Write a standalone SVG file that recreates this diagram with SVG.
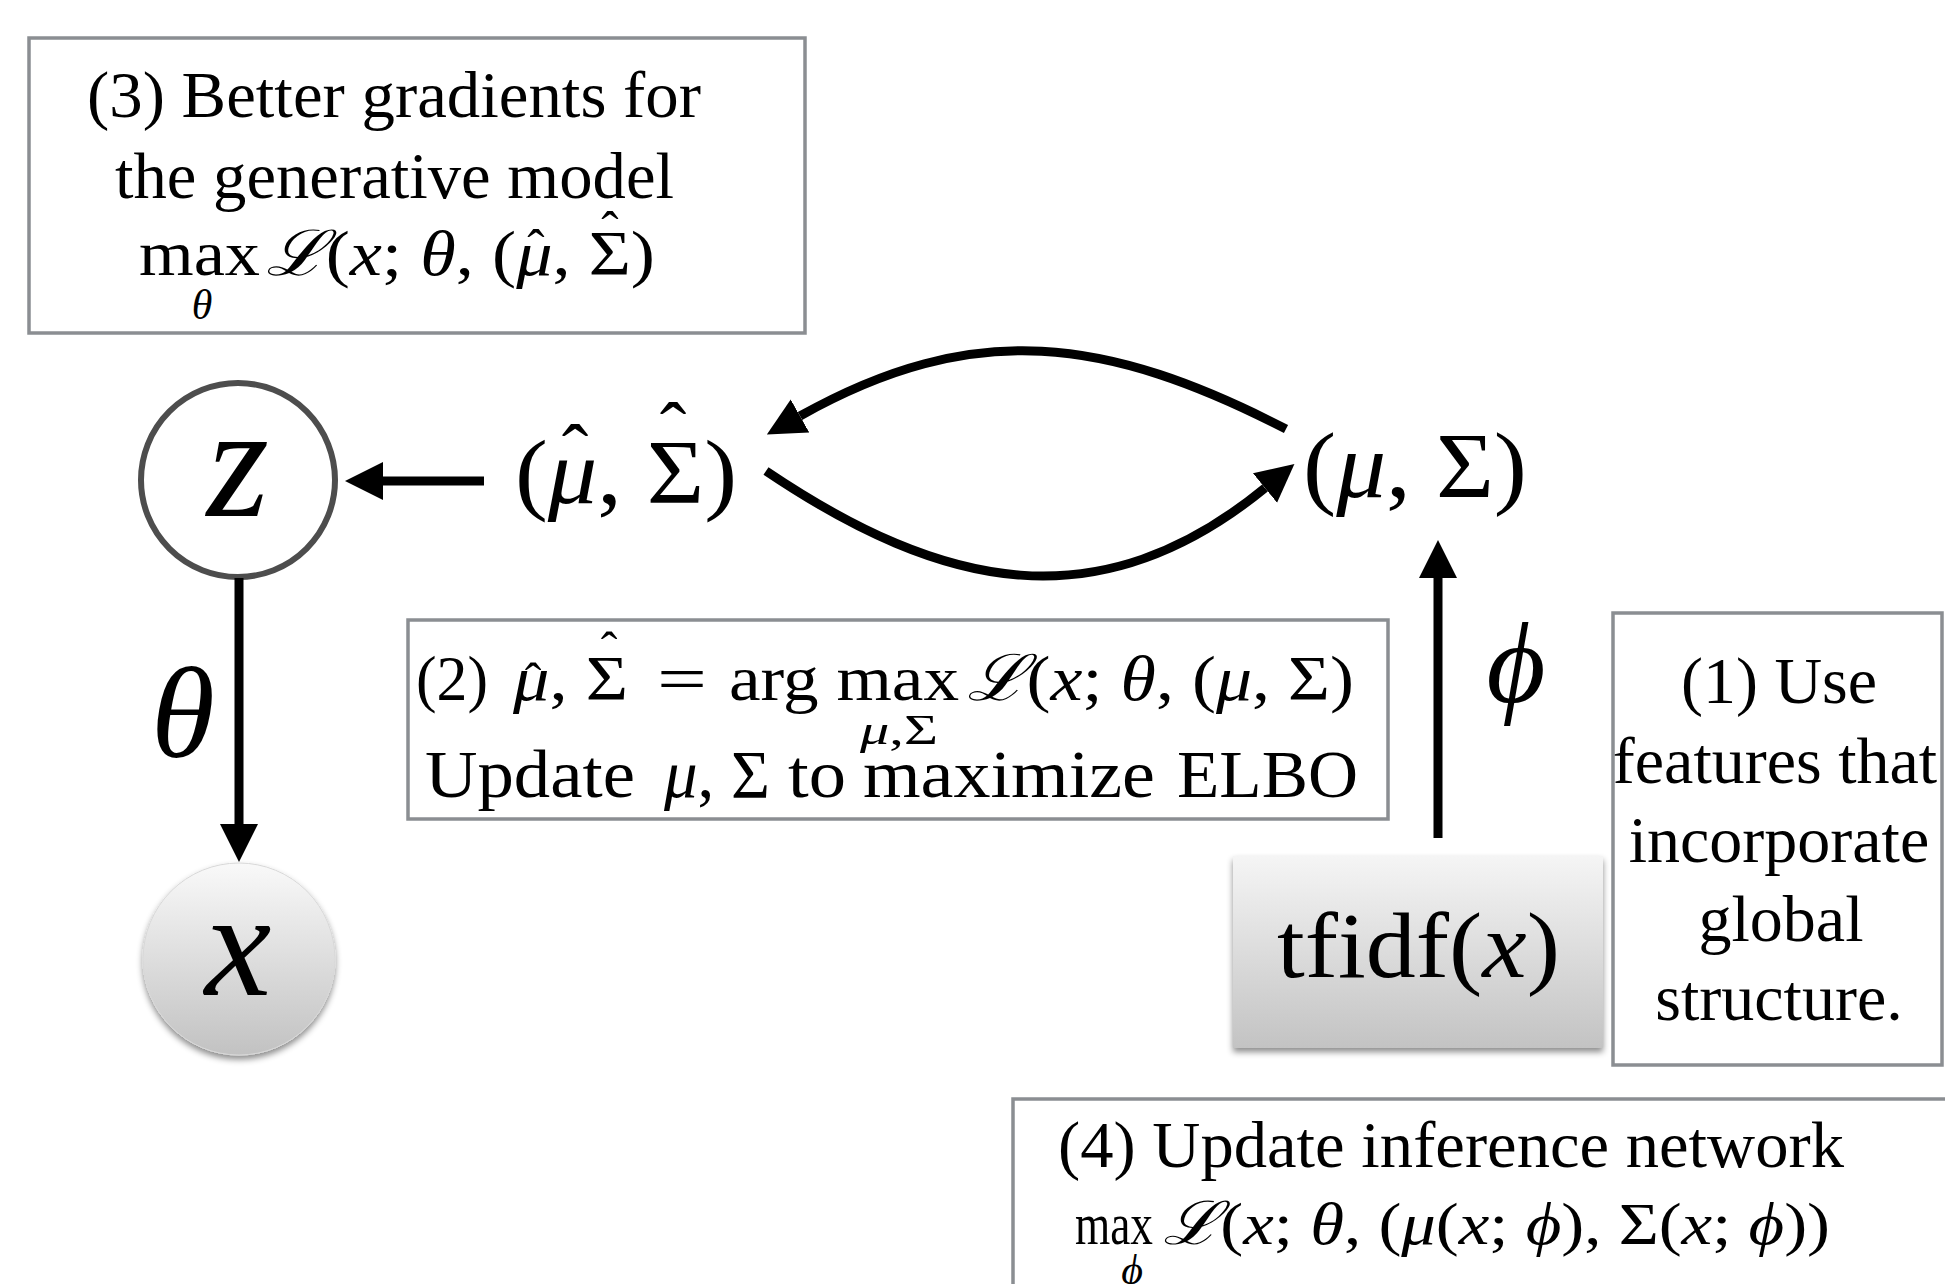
<svg xmlns="http://www.w3.org/2000/svg" width="1945" height="1284" viewBox="0 0 1945 1284">
<style>
.t{font-family:"Liberation Serif","DejaVu Serif",serif;fill:#000}
.i{font-style:italic}
.box{fill:#fff;stroke:#8b8e92;stroke-width:3.5}
.edge{fill:none;stroke:#000;stroke-width:9}
.hat{font-family:"Liberation Serif","DejaVu Serif",serif;fill:#000;text-anchor:middle}
</style>
<defs>
<marker id="ah" markerUnits="userSpaceOnUse" markerWidth="40" markerHeight="40" viewBox="0 0 40 40" refX="0" refY="20" orient="auto">
<path d="M0,1 L38,20 L0,39 Z" fill="#000"/>
</marker>
<linearGradient id="gx" x1="0" y1="0" x2="0" y2="1">
<stop offset="0" stop-color="#f9f9f9"/>
<stop offset="1" stop-color="#c2c2c2"/>
</linearGradient>
<linearGradient id="gt" x1="0" y1="0" x2="0" y2="1">
<stop offset="0" stop-color="#f5f5f5"/>
<stop offset="1" stop-color="#c3c3c3"/>
</linearGradient>
<filter id="sh" x="-20%" y="-20%" width="140%" height="150%">
<feDropShadow dx="0" dy="4" stdDeviation="3" flood-color="#000" flood-opacity="0.45"/>
</filter>
</defs>
<rect width="1945" height="1284" fill="#fff"/>

<g id="box-3">
<rect class="box" x="29" y="38" width="776" height="295"/>
<text class="t" x="87" y="117" font-size="66" textLength="614" lengthAdjust="spacingAndGlyphs">(3) Better gradients for</text>
<text class="t" x="115" y="198" font-size="66" textLength="559" lengthAdjust="spacingAndGlyphs">the generative model</text>
<text class="t" x="139" y="275" font-size="63" textLength="121" lengthAdjust="spacingAndGlyphs">max</text>
<text class="t" x="266" y="275" font-size="63" textLength="389" lengthAdjust="spacingAndGlyphs"><tspan class="i">ℒ</tspan>(<tspan class="i">x</tspan>; <tspan class="i">θ</tspan>, (<tspan class="i">μ</tspan>, Σ)</text>
<text class="hat" x="536" y="266" font-size="52">ˆ</text>
<text class="hat" x="610" y="248" font-size="52">ˆ</text>
<text class="t i" x="202" y="319" font-size="42" text-anchor="middle">θ</text>
</g>

<g id="node-z">
<circle cx="238" cy="480" r="97" fill="#fff" stroke="#4d4d4d" stroke-width="6"/>
<text class="t i" x="238" y="516" font-size="160" text-anchor="middle">z</text>
</g>

<g id="node-muhat">
<text class="t" x="515" y="503" font-size="92" textLength="222" lengthAdjust="spacingAndGlyphs">(<tspan class="i">μ</tspan>, Σ)</text>
<text class="hat" x="575" y="480" font-size="80">ˆ</text>
<text class="hat" x="673" y="458" font-size="80">ˆ</text>
</g>

<g id="node-mu">
<text class="t" x="1303" y="497" font-size="93" textLength="224" lengthAdjust="spacingAndGlyphs">(<tspan class="i">μ</tspan>, Σ)</text>
</g>

<g id="node-x">
<circle cx="239" cy="959" r="96" fill="url(#gx)" stroke="#d8d8d8" stroke-width="1" filter="url(#sh)"/>
<text class="t i" x="238" y="995" font-size="150" text-anchor="middle">x</text>
</g>

<g id="node-tfidf">
<rect x="1233" y="856" width="370" height="192" fill="url(#gt)" filter="url(#sh)"/>
<text class="t" x="1277" y="977" font-size="93" textLength="283" lengthAdjust="spacingAndGlyphs">tfidf(<tspan class="i">x</tspan>)</text>
</g>

<g id="box-2">
<rect class="box" x="408" y="620" width="980" height="199"/>
<text class="t" x="416" y="700" font-size="64" textLength="72" lengthAdjust="spacingAndGlyphs">(2)</text>
<text class="t" x="513" y="700" font-size="64" textLength="115" lengthAdjust="spacingAndGlyphs"><tspan class="i">μ</tspan>, Σ</text>
<text class="hat" x="533" y="698" font-size="50">ˆ</text>
<text class="hat" x="609" y="667" font-size="50">ˆ</text>
<text class="t" x="657" y="700" font-size="64" textLength="50" lengthAdjust="spacingAndGlyphs">=</text>
<text class="t" x="729" y="700" font-size="64" textLength="230" lengthAdjust="spacingAndGlyphs">arg max</text>
<text class="t" x="967" y="700" font-size="64" textLength="387" lengthAdjust="spacingAndGlyphs"><tspan class="i">ℒ</tspan>(<tspan class="i">x</tspan>; <tspan class="i">θ</tspan>, (<tspan class="i">μ</tspan>, Σ)</text>
<text class="t" x="860" y="744" font-size="42" textLength="78" lengthAdjust="spacingAndGlyphs"><tspan class="i">μ</tspan>,Σ</text>
<text class="t" x="425" y="797" font-size="67" textLength="210" lengthAdjust="spacingAndGlyphs">Update</text>
<text class="t" x="664" y="797" font-size="67" textLength="106" lengthAdjust="spacingAndGlyphs"><tspan class="i">μ</tspan>, Σ</text>
<text class="t" x="788" y="797" font-size="67" textLength="58" lengthAdjust="spacingAndGlyphs">to</text>
<text class="t" x="863" y="797" font-size="67" textLength="292" lengthAdjust="spacingAndGlyphs">maximize</text>
<text class="t" x="1177" y="797" font-size="67" textLength="181" lengthAdjust="spacingAndGlyphs">ELBO</text>
</g>

<g id="box-1">
<rect class="box" x="1613" y="613" width="329" height="452"/>
<g class="t" font-size="66" text-anchor="middle">
<text x="1779" y="703">(1) Use</text>
<text x="1775" y="783">features that</text>
<text x="1779" y="862">incorporate</text>
<text x="1781" y="941">global</text>
<text x="1779" y="1020">structure.</text>
</g>
</g>

<g id="box-4">
<rect class="box" x="1013" y="1099" width="1000" height="300"/>
<text class="t" x="1058" y="1167" font-size="66" textLength="786" lengthAdjust="spacingAndGlyphs">(4) Update inference network</text>
<text class="t" x="1075" y="1244" font-size="60" textLength="78" lengthAdjust="spacingAndGlyphs">max</text>
<text class="t" x="1163" y="1244" font-size="60" textLength="667" lengthAdjust="spacingAndGlyphs"><tspan class="i">ℒ</tspan>(<tspan class="i">x</tspan>; <tspan class="i">θ</tspan>, (<tspan class="i">μ</tspan>(<tspan class="i">x</tspan>; <tspan class="i">ϕ</tspan>), Σ(<tspan class="i">x</tspan>; <tspan class="i">ϕ</tspan>))</text>
<text class="t i" x="1132" y="1284" font-size="42" text-anchor="middle">ϕ</text>
</g>

<g id="connectors">
<path class="edge" d="M484,481 L383,481" marker-end="url(#ah)"/>
<path class="edge" d="M239,578 L239,824" marker-end="url(#ah)"/>
<path class="edge" d="M1438,838 L1438,578" marker-end="url(#ah)"/>
<path class="edge" d="M1286,429 C1107,337 975,318 800,416" marker-end="url(#ah)"/>
<path class="edge" d="M766,471 C944,591 1100,623 1265,488" marker-end="url(#ah)"/>
<text class="t i" x="183" y="757" font-size="130" text-anchor="middle">θ</text>
<text class="t i" x="1516" y="702" font-size="114" text-anchor="middle">ϕ</text>
</g>
</svg>
